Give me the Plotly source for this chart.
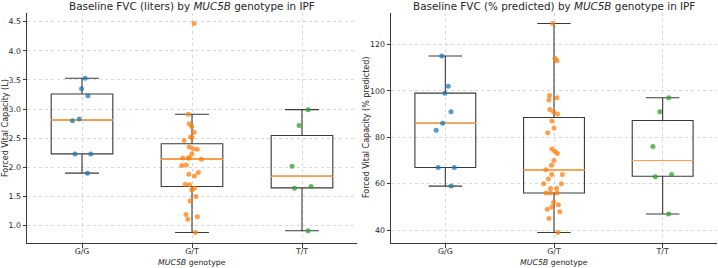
import numpy as np
import plotly.graph_objects as go
from plotly.subplots import make_subplots

genotypes = ["G/G", "G/T", "T/T"]
colors = ["#1f77b4", "#ff7f0e", "#2ca02c"]

# Baseline FVC (liters)
fvc_l_gg = [3.53, 3.35, 3.23, 2.83, 2.80, 2.23, 2.23, 1.90]
fvc_l_gt = [4.47, 2.91, 2.75, 2.70, 2.60, 2.52, 2.51, 2.46, 2.35, 2.32, 2.31,
            2.23, 2.16, 2.16, 2.14, 2.16, 2.04, 2.03, 1.91, 1.88, 1.85, 1.71,
            1.70, 1.64, 1.61, 1.50, 1.42, 1.19, 1.11, 1.15, 0.88]
fvc_l_tt = [2.99, 2.72, 2.02, 1.67, 1.64, 0.91]

# Baseline FVC (% predicted)
fvc_p_gg = [115, 102, 99, 91, 86, 83, 67, 67, 59]
fvc_p_gt = [129, 114, 113, 98, 97, 96, 92, 91, 90, 87, 84, 82, 75, 74, 73, 70,
            68, 66, 64, 64, 62, 60, 60, 58, 58, 56, 56, 56, 52, 51, 50, 49, 48,
            45, 39]
fvc_p_tt = [97, 91, 76, 64, 63, 47]

panels = [
    ([fvc_l_gg, fvc_l_gt, fvc_l_tt], "Baseline FVC (liters) by <i>MUC5B</i> genotype in IPF",
     "Forced Vital Capacity (L)", [0.70, 4.65], 0.5, ".1f"),
    ([fvc_p_gg, fvc_p_gt, fvc_p_tt], "Baseline FVC (% predicted) by <i>MUC5B</i> genotype in IPF",
     "Forced Vital Capacity (% predicted)", [34.5, 133.5], 20, "d"),
]

W, H = 718, 268
ml, mr, mt, mb = 27, 1, 13, 25
pw = W - ml - mr
dom1 = [0, (357 - ml) / pw]
dom2 = [(391 - ml) / pw, 1]

fig = make_subplots(rows=1, cols=2, horizontal_spacing=0.05)

BOXW = 0.56
FONT = "DejaVu Sans"
TXT = "#262626"


def stats(v):
    a = np.asarray(v, dtype=float)
    q1, med, q3 = np.percentile(a, [25, 50, 75])
    iqr = q3 - q1
    lo = a[a >= q1 - 1.5 * iqr].min()
    hi = a[a <= q3 + 1.5 * iqr].max()
    return q1, med, q3, lo, hi


for ci, (groups, title, ylab, yr, dt, fmt) in enumerate(panels):
    col = ci + 1
    for g, vals, c in zip(genotypes, groups, colors):
        q1, med, q3, lo, hi = stats(vals)
        fig.add_trace(go.Box(x=[g], q1=[q1], median=[med], q3=[q3],
                             lowerfence=[lo], upperfence=[hi], width=BOXW,
                             whiskerwidth=0.55, boxpoints=False,
                             line=dict(color="#3a3a3a", width=1.1),
                             fillcolor="rgba(0,0,0,0)", showlegend=False),
                      row=1, col=col)
        fig.add_trace(go.Box(x=[g], q1=[med], median=[med], q3=[med],
                             lowerfence=[med], upperfence=[med], width=BOXW,
                             whiskerwidth=1, boxpoints=False,
                             line=dict(color="#ffa04a", width=0.9),
                             fillcolor="rgba(0,0,0,0)", showlegend=False),
                      row=1, col=col)
    for g, vals, c in zip(genotypes, groups, colors):
        fig.add_trace(go.Box(x=[g] * len(vals), y=vals, width=BOXW,
                             boxpoints="all", jitter=0.38, pointpos=0,
                             marker=dict(color=c, size=5, opacity=0.75),
                             line=dict(color="rgba(0,0,0,0)", width=0),
                             fillcolor="rgba(0,0,0,0)", showlegend=False),
                      row=1, col=col)

    xa = "x" if col == 1 else "x2"
    ya = "y" if col == 1 else "y2"
    fig.update_yaxes(range=yr, dtick=dt, tickformat=fmt, row=1, col=col)
    fig.add_annotation(text=title, xref=xa + " domain", yref=ya + " domain",
                       x=0.5, y=1, xanchor="center", yanchor="bottom", yshift=-1,
                       showarrow=False, font=dict(family=FONT, size=10.4, color=TXT))
    fig.add_annotation(text=ylab, xref=xa + " domain", yref=ya + " domain",
                       x=0, y=0.5, xanchor="center", yanchor="middle",
                       xshift=-22 if col == 1 else -25, textangle=-90,
                       showarrow=False, font=dict(family=FONT, size=8, color=TXT))
    fig.add_annotation(text="<i>MUC5B</i> genotype", xref=xa, yref=ya + " domain",
                       x="G/T", y=0, xanchor="center", yanchor="middle", yshift=-19,
                       showarrow=False, font=dict(family=FONT, size=7.8, color=TXT))

axis_common = dict(showline=True, linecolor="#3a3a3a", linewidth=1, mirror=False,
                   ticks="outside", ticklen=3.5, tickwidth=1, tickcolor="#3a3a3a",
                   showgrid=True, gridcolor="#d9d9d9", gridwidth=0.8, griddash="dot",
                   zeroline=False, tickfont=dict(family=FONT, size=7.8, color=TXT))
fig.update_xaxes(**axis_common, type="category", categoryorder="array",
                 categoryarray=genotypes, range=[-0.5, 2.5], ticklabelstandoff=-3)
fig.update_yaxes(**axis_common)
fig.update_layout(xaxis=dict(domain=dom1), xaxis2=dict(domain=dom2))

fig.update_layout(width=W, height=H, margin=dict(l=ml, r=mr, t=mt, b=mb),
                  boxmode="overlay", plot_bgcolor="white", paper_bgcolor="white",
                  font=dict(family=FONT), showlegend=False)

fig.write_html("out.html")
